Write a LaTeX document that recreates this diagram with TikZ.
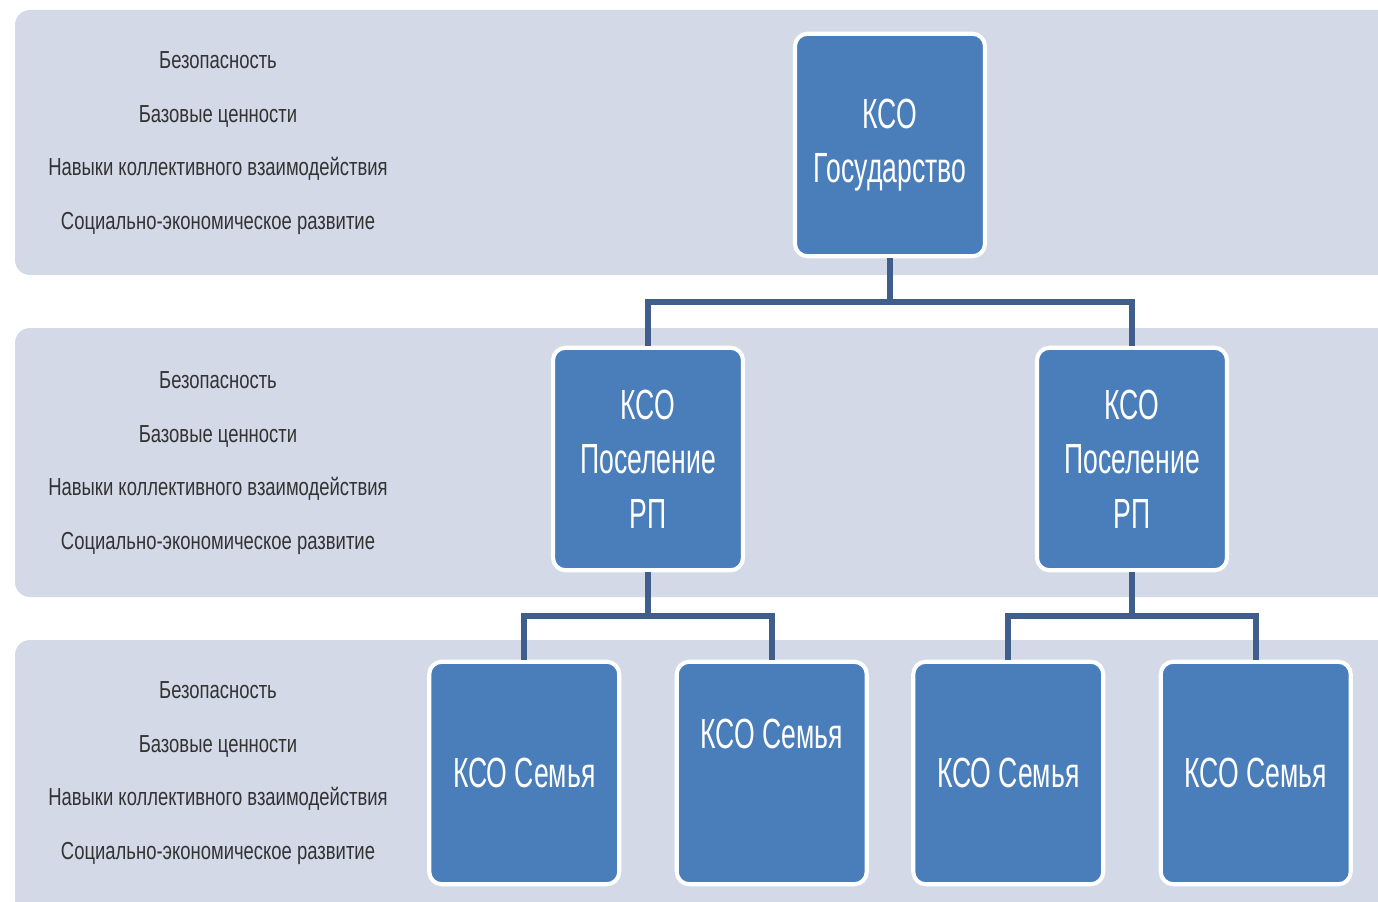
\documentclass[tikz,border=0pt]{standalone}
\usepackage{fontspec}
\setmainfont{Liberation Sans}
\newfontfamily\boxfont{Liberation Sans}[FakeStretch=0.63]
\newfontfamily\notefont{Liberation Sans}[FakeStretch=0.75]
\usepackage{tikz}
\usetikzlibrary{positioning, calc}
\definecolor{bandgray}{HTML}{D3D9E7}
\definecolor{ksoblue}{HTML}{4A7EBB}
\definecolor{linkblue}{HTML}{3F5E8C}
\definecolor{notegray}{HTML}{333333}
\tikzstyle{band}=[fill=bandgray,rounded corners=0.3cm]
\tikzstyle{kso}=[draw=white,line width=2.3pt,fill=ksoblue,rounded corners=0.25cm,minimum width=3.8cm,minimum height=4.45cm,inner sep=0pt,align=center,text=white,font=\boxfont\fontsize{24}{31}\selectfont]
\tikzstyle{famhigh}=[text depth=1.58cm]
\tikzstyle{note}=[align=center,text=notegray,font=\notefont\fontsize{14}{30.6}\selectfont]

\begin{document}
\begin{tikzpicture}[level distance=6.28cm,
    level 1/.style={sibling distance=9.68cm},
    level 2/.style={sibling distance=4.95cm},
    edge from parent/.style={draw=linkblue,line width=3.4pt},
    edge from parent path={(\tikzparentnode.south) |- ($(\tikzparentnode.south)!0.5!(\tikzchildnode.north)$) -| (\tikzchildnode.north)}]
  \useasboundingbox (0,0) rectangle (27.56,-18.04);
  \fill[band] (0.3,-0.2) rectangle (28.2,-5.5);
  \fill[band] (0.3,-6.56) rectangle (28.2,-11.94);
  \fill[band] (0.3,-12.8) rectangle (28.2,-18.3);

  \node [note] (facts1) at (4.36,-2.86) {Безопасность\\Базовые ценности\\Навыки коллективного взаимодействия\\Социально-экономическое развитие};
  \node [note] (facts2) at (4.36,-9.26) {Безопасность\\Базовые ценности\\Навыки коллективного взаимодействия\\Социально-экономическое развитие};
  \node [note] (facts3) at (4.36,-15.46) {Безопасность\\Базовые ценности\\Навыки коллективного взаимодействия\\Социально-экономическое развитие};

  \node [kso] (gos) at (17.8,-2.9) {КСО\\Государство}
    child {
      node [kso] (posl1) {КСО\\Поселение\\РП}
      child {
        node [kso] (sem1) {КСО Семья}
      }
      child {
        node [kso,famhigh] (sem2) {КСО Семья}
      }
    }
    child {
      node [kso] (posl2) {КСО\\Поселение\\РП}
      child {
        node [kso] (sem3) {КСО Семья}
      }
      child {
        node [kso] (sem4) {КСО Семья}
      }
    };
\end{tikzpicture}
\end{document}
